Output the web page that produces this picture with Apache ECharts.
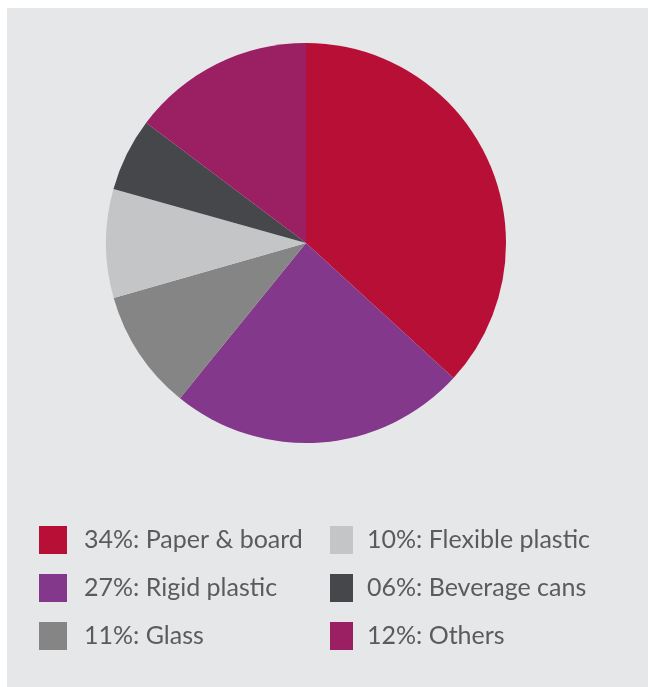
<!DOCTYPE html>
<html>
<head>
<meta charset="utf-8">
<script src="https://cdn.jsdelivr.net/npm/echarts@6/dist/echarts.min.js"></script>
<style>
html,body{margin:0;padding:0;background:#ffffff;}
#chart{width:648px;height:687px;}
</style>
</head>
<body>
<div id="chart"></div>
<script>
// Data
const categories = ["34%: Paper & board", "27%: Rigid plastic", "11%: Glass", "10%: Flexible plastic", "06%: Beverage cans", "12%: Others"];
const sliceValues = [36.8, 24.05, 9.72, 8.79, 5.9, 14.74];
const colors = ["#B80F36", "#84388B", "#858585", "#C4C5C7", "#46474A", "#9B1F63"];
const legendCol1 = categories.slice(0, 3);
const legendCol2 = categories.slice(3, 6);

const chart = echarts.init(document.getElementById('chart'), null, {renderer: 'canvas'});
const textStyle = {
  fontFamily: 'Lato',
  fontSize: 25,
  color: '#5B5B5E',
  lineHeight: 28
};
chart.setOption({
  animation: false,
  backgroundColor: '#ffffff',
  graphic: [{
    type: 'rect', z: -10, silent: true,
    shape: {x: 7, y: 8, width: 641, height: 679},
    style: {fill: '#E6E7E9'}
  }],
  color: colors,
  legend: [{
    data: legendCol1,
    orient: 'vertical',
    left: 39, top: 526,
    itemWidth: 28, itemHeight: 28, itemGap: 20,
    icon: 'rect',
    padding: 0,
    selectedMode: false,
    textStyle: Object.assign({}, textStyle, {padding: [0, 0, 0, 12]})
  }, {
    data: legendCol2,
    orient: 'vertical',
    left: 330, top: 526,
    itemWidth: 23, itemHeight: 28, itemGap: 20,
    icon: 'rect',
    padding: 0,
    selectedMode: false,
    textStyle: Object.assign({}, textStyle, {padding: [0, 0, 0, 9]})
  }],
  series: [{
    type: 'pie',
    center: [306, 243],
    radius: [0, 200],
    startAngle: 90,
    clockwise: true,
    label: {show: false},
    labelLine: {show: false},
    emphasis: {disabled: true},
    itemStyle: {borderWidth: 0},
    data: categories.map((c, i) => ({name: c, value: sliceValues[i]}))
  }]
});
</script>
</body>
</html>
